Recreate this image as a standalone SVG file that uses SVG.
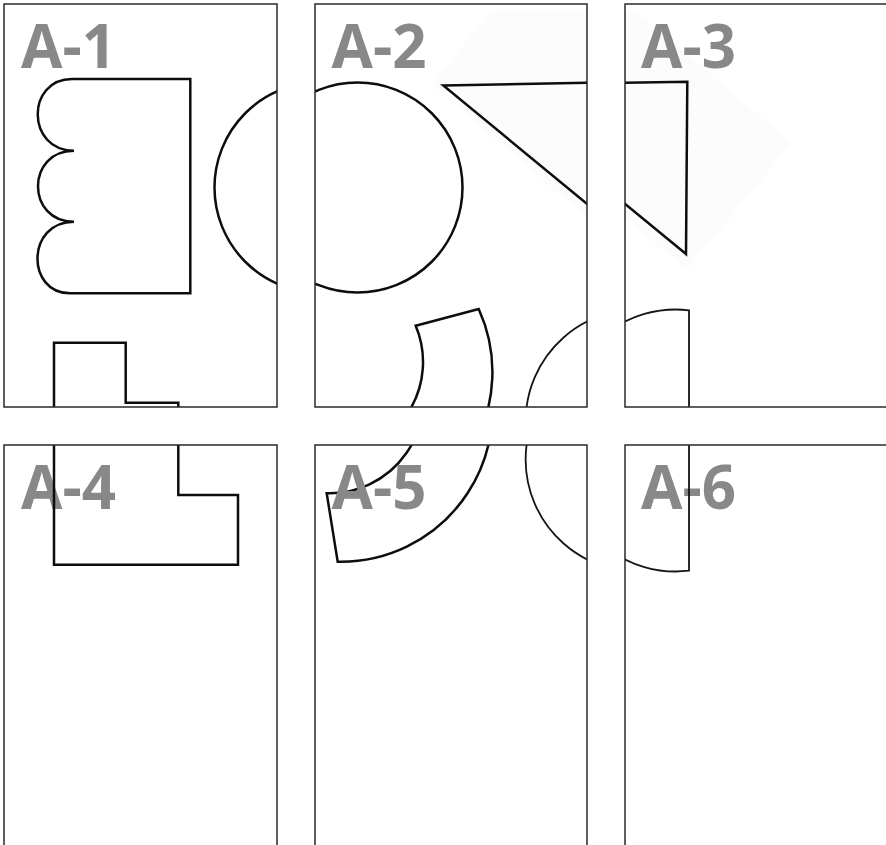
<svg xmlns="http://www.w3.org/2000/svg" xmlns:xlink="http://www.w3.org/1999/xlink" width="886" height="845" viewBox="0 0 886 845">
<style>
.frame{fill:none;stroke:#2a2a2a;stroke-width:1.5}
.lbl{font-family:"Open Sans","Liberation Sans",sans-serif;font-weight:700;font-size:60px;fill:#888888}
.ln{fill:none;stroke:#0d0d0d;stroke-width:2.5;stroke-linejoin:miter}
.thin{fill:none;stroke:#151515;stroke-width:1.8}
.faint{fill:#fcfcfc;stroke:none}
</style>
<defs>
<clipPath id="c1"><rect x="4" y="4" width="273" height="403"/></clipPath>
<clipPath id="c2"><rect x="315" y="4" width="272" height="403"/></clipPath>
<clipPath id="c3"><rect x="625" y="4" width="273" height="403"/></clipPath>
<clipPath id="c4"><rect x="4" y="445" width="273" height="403"/></clipPath>
<clipPath id="c5"><rect x="315" y="445" width="272" height="403"/></clipPath>
<clipPath id="c6"><rect x="625" y="445" width="273" height="403"/></clipPath>
<g id="art">
<polygon class="faint" points="453,10 393.5,85 610.5,270 716,143 559,10"/>
<path class="ln" d="M190.3 79 H72 C26 79 26 150.7 74 150.7 C26 150.7 26 221.7 74 221.7 C26 221.7 26 293.3 70 293.3 H190.3 Z"/>
<circle class="ln" cx="319.5" cy="187.5" r="105"/>
<polygon class="ln" points="405.3,85.5 611.3,81.7 610,254"/>
<path class="ln" d="M54 342.7 H125.7 V402.7 H178.3 V457 H238 V526.7 H54 Z"/>
<path class="ln" d="M377.7 325.7 L440.7 309 A151.7 151.7 0 0 1 299.7 523.7 L288.7 455.3 A93.4 93.4 0 0 0 377.7 325.7 Z"/>
<path class="thin" d="M613 310.3 L613 532.7 A112 112 0 1 1 613 310.3 Z"/>
</g>
</defs>
<g id="tile-A1">
<g clip-path="url(#c1)"><use xlink:href="#art" href="#art"/></g>
<text class="lbl" x="21" y="67.5">A-1</text>
<rect class="frame" x="4" y="4" width="273" height="403"/>
</g>
<g id="tile-A2">
<g clip-path="url(#c2)"><use xlink:href="#art" href="#art" transform="translate(38,0)"/></g>
<text class="lbl" x="331.5" y="67.5">A-2</text>
<rect class="frame" x="315" y="4" width="272" height="403"/>
</g>
<g id="tile-A3">
<g clip-path="url(#c3)"><use xlink:href="#art" href="#art" transform="translate(76,0)"/></g>
<text class="lbl" x="641" y="67.5">A-3</text>
<rect class="frame" x="625" y="4" width="273" height="403"/>
</g>
<g id="tile-A4">
<text class="lbl" x="21" y="508.5">A-4</text>
<g clip-path="url(#c4)"><use xlink:href="#art" href="#art" transform="translate(0,38)"/></g>
<rect class="frame" x="4" y="445" width="273" height="403"/>
</g>
<g id="tile-A5">
<g clip-path="url(#c5)"><use xlink:href="#art" href="#art" transform="translate(38,38)"/></g>
<text class="lbl" x="331.5" y="508.5">A-5</text>
<rect class="frame" x="315" y="445" width="272" height="403"/>
</g>
<g id="tile-A6">
<text class="lbl" x="641" y="508.5">A-6</text>
<g clip-path="url(#c6)"><use xlink:href="#art" href="#art" transform="translate(76,38)"/></g>
<rect class="frame" x="625" y="445" width="273" height="403"/>
</g>
</svg>
